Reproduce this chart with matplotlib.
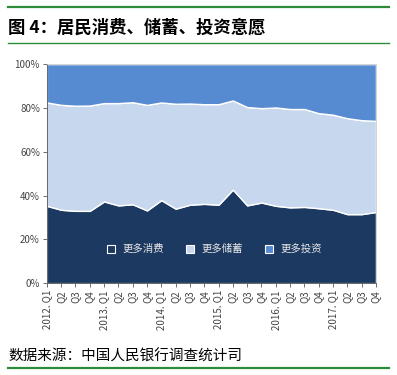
import numpy as np
import matplotlib.pyplot as plt
from matplotlib.lines import Line2D

plt.rcParams['font.family'] = ['Noto Sans CJK SC', 'DejaVu Sans']

quarters = ['2012. Q1', 'Q2', 'Q3', 'Q4',
            '2013. Q1', 'Q2', 'Q3', 'Q4',
            '2014. Q1', 'Q2', 'Q3', 'Q4',
            '2015. Q1', 'Q2', 'Q3', 'Q4',
            '2016. Q1', 'Q2', 'Q3', 'Q4',
            '2017. Q1', 'Q2', 'Q3', 'Q4']

# 更多消费 (%)
consume = [35.3, 33.5, 33.0, 33.0, 37.3, 35.5, 36.0, 33.2, 37.9, 34.0, 35.8, 36.2,
           35.8, 42.7, 35.5, 36.8, 35.3, 34.6, 34.8, 34.2, 33.5, 31.5, 31.5, 32.5]
# 更多储蓄 (%)
save = [47.2, 47.9, 48.0, 48.1, 44.9, 46.7, 46.6, 48.2, 44.6, 47.9, 46.2, 45.5,
        45.9, 40.7, 44.9, 43.1, 44.9, 44.9, 44.7, 43.4, 43.4, 43.8, 42.9, 41.6]
# 更多投资 (%)
invest = [100 - c - s for c, s in zip(consume, save)]

labels = ['更多消费', '更多储蓄', '更多投资']
colors = ['#1c3961', '#c6d7ee', '#568bd2']

fig = plt.figure(figsize=(3.97, 3.75), dpi=100)
ax = fig.add_axes([0.118, 0.245, 0.829, 0.584])

x = np.arange(len(quarters))
ax.stackplot(x, consume, save, invest, colors=colors, edgecolor='white', linewidth=1.0)
ax.set_xlim(0, len(quarters) - 1)
ax.set_ylim(0, 100)

ax.set_yticks(np.arange(0, 101, 20))
ax.set_yticklabels([f'{v}%' for v in range(0, 101, 20)], fontsize=7, color='#444444')
ax.set_xticks(x)
ax.set_xticklabels(quarters, rotation=90, fontsize=7, color='#444444')
ax.tick_params(axis='both', length=3, width=0.6, color='#555555', pad=2)
for side in ['left', 'bottom']:
    ax.spines[side].set_color('#666666')
    ax.spines[side].set_linewidth(0.7)
for side in ['top', 'right']:
    ax.spines[side].set_color('#cccccc')
    ax.spines[side].set_linewidth(0.6)

handles = [Line2D([], [], marker='s', linestyle='none', markersize=5.5,
                  markerfacecolor=c, markeredgecolor='white', markeredgewidth=0.8)
           for c in colors]
leg = ax.legend(handles, labels, loc='center', bbox_to_anchor=(0.5, 0.155), ncol=3,
                frameon=False, fontsize=7.5, handletextpad=0.1, columnspacing=1.5)
for t in leg.get_texts():
    t.set_color('#e8e8e8')

# 标题与绿线
fig.add_artist(Line2D([0.02, 0.98], [0.982, 0.982], color='#2e8b3a', linewidth=1.6))
fig.text(0.02, 0.927, '图 4：居民消费、储蓄、投资意愿', fontsize=12.5, fontweight='bold',
         va='center', ha='left')
fig.add_artist(Line2D([0.02, 0.98], [0.885, 0.885], color='#2e8b3a', linewidth=1.0))

fig.text(0.02, 0.05, '数据来源：中国人民银行调查统计司', fontsize=10.5, va='center', ha='left')
fig.add_artist(Line2D([0.02, 0.98], [0.018, 0.018], color='#2e8b3a', linewidth=1.6))

plt.savefig('out.png', dpi=100)
